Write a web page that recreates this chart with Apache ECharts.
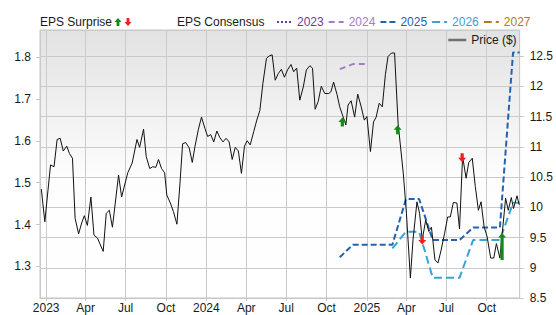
<!DOCTYPE html>
<html><head><meta charset="utf-8">
<script src="https://cdn.jsdelivr.net/npm/echarts@6/dist/echarts.min.js"></script>
<style>html,body{margin:0;padding:0;background:#fff}#c{width:556px;height:315px}</style>
</head><body><div id="c"></div>
<script>
// ---- data ----
const priceDates = ['2022-12-21','2022-12-29','2023-01-11','2023-01-19','2023-01-26','2023-02-02','2023-02-09','2023-02-17','2023-02-23','2023-03-02','2023-03-08','2023-03-16','2023-03-23','2023-03-29','2023-04-05','2023-04-13','2023-04-20','2023-04-28','2023-05-11','2023-05-18','2023-05-25','2023-06-01','2023-06-15','2023-06-22','2023-07-06','2023-07-16','2023-07-27','2023-08-02','2023-08-11','2023-08-17','2023-08-25','2023-09-01','2023-09-08','2023-09-14','2023-09-21','2023-09-28','2023-10-03','2023-10-11','2023-10-18','2023-10-26','2023-11-02','2023-11-08','2023-11-15','2023-11-23','2023-11-30','2023-12-06','2023-12-14','2023-12-21','2023-12-29','2024-01-04','2024-01-11','2024-01-18','2024-01-25','2024-02-01','2024-02-08','2024-02-15','2024-02-22','2024-02-29','2024-03-07','2024-03-14','2024-03-21','2024-03-28','2024-04-03','2024-04-10','2024-04-18','2024-04-25','2024-05-02','2024-05-09','2024-05-17','2024-05-23','2024-05-30','2024-06-06','2024-06-13','2024-06-20','2024-06-27','2024-07-04','2024-07-12','2024-07-18','2024-07-25','2024-08-01','2024-08-09','2024-08-16','2024-08-24','2024-08-30','2024-09-05','2024-09-12','2024-09-19','2024-09-27','2024-10-06','2024-10-11','2024-10-17','2024-10-25','2024-10-31','2024-11-07','2024-11-14','2024-11-19','2024-11-26','2024-12-04','2024-12-11','2024-12-19','2024-12-26','2025-01-01','2025-01-09','2025-01-16','2025-01-22','2025-01-29','2025-02-05','2025-02-12','2025-02-18','2025-02-26','2025-03-05','2025-03-13','2025-03-25','2025-04-01','2025-04-10','2025-04-16','2025-04-25','2025-05-01','2025-05-07','2025-05-15','2025-05-22','2025-05-28','2025-06-05','2025-06-12','2025-06-19','2025-06-27','2025-07-04','2025-07-10','2025-07-17','2025-07-25','2025-07-31','2025-08-07','2025-08-15','2025-08-21','2025-08-29','2025-09-05','2025-09-12','2025-09-18','2025-09-25','2025-10-02','2025-10-10','2025-10-17','2025-10-23','2025-10-31','2025-11-05','2025-11-13','2025-11-19','2025-11-26','2025-12-01','2025-12-09','2025-12-14'];
const priceValues = [10.30,9.76,10.70,10.67,11.12,11.14,10.93,11.01,10.89,10.81,9.82,9.56,9.74,9.86,9.70,10.17,9.54,9.49,9.27,9.90,9.95,9.67,10.53,10.17,10.57,10.73,11.12,10.99,11.29,10.84,10.64,10.67,10.66,10.79,10.64,10.57,10.20,10.07,9.93,9.72,10.40,11.05,11.07,10.98,10.74,11.00,11.29,11.49,11.30,11.17,11.20,11.08,11.26,11.15,11.08,11.14,11.08,10.79,10.99,10.93,10.56,11.01,11.10,11.03,11.25,11.44,11.60,12.05,12.46,12.50,12.52,12.10,12.21,12.28,12.15,12.27,12.36,12.24,12.30,11.77,11.99,12.27,12.34,12.30,11.62,11.75,12.00,11.88,11.88,11.91,12.07,11.86,11.66,11.51,11.36,11.69,11.76,11.49,11.87,11.66,11.44,11.50,10.92,11.41,11.49,11.72,11.66,12.19,12.49,12.55,12.55,11.39,10.55,9.90,8.83,9.46,10.09,9.90,9.46,9.79,9.60,9.67,9.13,9.08,9.29,9.57,9.84,9.84,10.08,10.07,9.64,10.84,10.48,10.74,10.81,10.34,9.95,10.09,9.68,9.51,9.16,9.16,9.40,9.16,9.54,10.15,9.95,10.16,9.98,10.19,10.04];

const epsDates = ['2024-10-31','2024-11-30','2024-12-31','2025-01-31','2025-02-28','2025-03-31','2025-04-30','2025-05-31','2025-06-30','2025-07-31','2025-08-31','2025-09-30','2025-10-31','2025-11-30','2025-12-15'];
const eps2023 = [];
const eps2024 = [1.771,1.783,1.783,null,null,null,null,null,null,null,null,null,null,null,null];
const eps2025 = [1.322,1.352,1.352,1.352,1.352,1.461,1.461,1.363,1.363,1.363,1.393,1.393,1.393,1.811,1.811];
const eps2026 = [null,null,null,null,1.343,1.383,1.383,1.273,1.273,1.273,1.363,1.363,1.363,1.452,1.452];
const eps2027 = [];

const surpriseUpDates = ['2024-11-06','2025-03-12','2025-11-05'];
const surpriseUpValues = [11.41,11.28,9.35];
const surpriseDownDates = ['2025-05-07','2025-08-06'];
const surpriseDownValues = [9.46,10.82];

const leftTicks = [1.3,1.4,1.5,1.6,1.7,1.8];
const yearNames = ['2023','2024','2025','2026','2027'];
const monthNames = ['Jan','Feb','Mar','Apr','May','Jun','Jul','Aug','Sep','Oct','Nov','Dec'];

// ---- styles ----
const FONT = "'Liberation Sans', Arial, sans-serif";
const colors = {'2023':'#6b3f98','2024':'#a57cc6','2025':'#2462ae','2026':'#3ba2d6','2027':'#b07a28'};
const dashes = {'2023':[2,2],'2024':[6,4],'2025':[6,3],'2026':[8,4],'2027':[8,4]};
const UP = 'path://M4,0 L8,4.5 L5.6,4.5 L5.6,9 L2.4,9 L2.4,4.5 L0,4.5 Z';
const UP_TALL = 'path://M4,0 L8,4.5 L5.6,4.5 L5.6,27 L2.4,27 L2.4,4.5 L0,4.5 Z';
const DOWN = 'path://M2.4,0 L5.6,0 L5.6,4.5 L8,4.5 L4,9 L0,4.5 L2.4,4.5 Z';
const GREEN = '#17891a', RED = '#ee1f1f';
const HIDDEN_MARK = { color: 'rgba(0,0,0,0)', borderColor: 'rgba(0,0,0,0)', borderWidth: 0, opacity: 0 };

const zip = (a, b) => a.map((d, i) => [d, b[i]]);
const epsData = { '2023': eps2023.length ? zip(epsDates, eps2023) : [], '2024': zip(epsDates, eps2024), '2025': zip(epsDates, eps2025), '2026': zip(epsDates, eps2026), '2027': eps2027.length ? zip(epsDates, eps2027) : [] };

const series = [];
yearNames.forEach(y => {
  series.push({
    name: y, type: 'line', yAxisIndex: 0, data: epsData[y], symbol: 'none', connectNulls: false,
    lineStyle: { color: colors[y], width: 2, type: dashes[y] }, itemStyle: { color: colors[y] }, z: 3
  });
});
series.push({
  name: 'Price ($)', type: 'line', yAxisIndex: 1, data: zip(priceDates, priceValues), symbol: 'none',
  lineStyle: { color: '#111', width: 1 }, itemStyle: { color: '#666' }, z: 4
});
series.push({
  name: 'up', type: 'scatter', yAxisIndex: 1, data: zip(surpriseUpDates, surpriseUpValues),
  symbol: (v, p) => p.dataIndex === 2 ? UP_TALL : UP,
  symbolSize: (v, p) => p.dataIndex === 2 ? [8, 27] : [8, 9],
  itemStyle: { color: GREEN, opacity: 1 }, z: 6
});
series.push({
  name: 'down', type: 'scatter', yAxisIndex: 1, data: zip(surpriseDownDates, surpriseDownValues),
  symbol: DOWN, symbolSize: [8, 9], itemStyle: { color: RED, opacity: 1 }, z: 6
});

const axisGray = '#c6c6c6';
const option = {
  animation: false,
  textStyle: { fontFamily: FONT },
  title: [
    { text: 'EPS Surprise', left: 40, top: 16, padding: 0, textStyle: { fontSize: 12, fontWeight: 'normal', color: '#1a1a1a', fontFamily: FONT } },
    { text: 'EPS Consensus', left: 177, top: 16, padding: 0, textStyle: { fontSize: 12, fontWeight: 'normal', color: '#1a1a1a', fontFamily: FONT } }
  ],
  legend: [
    { data: [{ name: 'up', icon: UP }], left: 114, top: 18, padding: 0, itemWidth: 8, itemHeight: 8, formatter: () => '', selectedMode: false },
    { data: [{ name: 'down', icon: DOWN }], left: 124, top: 18, padding: 0, itemWidth: 8, itemHeight: 8, formatter: () => '', selectedMode: false },
    { data: yearNames.map(y => ({ name: y, textStyle: { color: colors[y] } })), left: 276, top: 16, padding: 0, itemWidth: 15, itemHeight: 10, itemGap: 4,
      itemStyle: HIDDEN_MARK,
      textStyle: { fontSize: 12, fontFamily: FONT }, selectedMode: false },
    { data: ['Price ($)'], left: 447, top: 34, padding: 0, itemWidth: 18, itemHeight: 10,
      itemStyle: HIDDEN_MARK,
      lineStyle: { color: '#707070', width: 2.5 }, textStyle: { fontSize: 12, color: '#1a1a1a', fontFamily: FONT }, selectedMode: false }
  ],
  grid: {
    left: 40, right: 31, top: 30, bottom: 17, show: true, borderColor: axisGray, borderWidth: 1,
    backgroundColor: new echarts.graphic.LinearGradient(0, 0, 0, 1, [
      { offset: 0, color: '#e2e2e2' }, { offset: 0.55, color: '#fdfdfd' }, { offset: 1, color: '#ffffff' }
    ])
  },
  xAxis: {
    type: 'time', min: '2022-12-18', max: '2025-12-15',
    splitNumber: 12, minInterval: 90 * 864e5, maxInterval: 92 * 864e5,
    axisLine: { show: true, lineStyle: { color: axisGray } },
    axisTick: { show: true, length: 3, lineStyle: { color: axisGray } },
    splitLine: { show: true, lineStyle: { color: '#cacaca', width: 1 } },
    axisLabel: {
      fontSize: 12, color: '#1a1a1a', margin: 4, fontFamily: FONT, showMinLabel: false, showMaxLabel: false,
      formatter: (val) => { const d = new Date(val); return d.getMonth() === 0 ? String(d.getFullYear()) : monthNames[d.getMonth()]; }
    }
  },
  yAxis: [
    {
      type: 'value', position: 'left', min: 1.2248, max: 1.8644,
      axisLine: { show: false }, splitLine: { show: false },
      axisTick: { show: true, length: 4, lineStyle: { color: axisGray }, customValues: leftTicks },
      axisLabel: { fontSize: 12, color: '#1a1a1a', margin: 9, fontFamily: FONT, customValues: leftTicks }
    },
    {
      type: 'value', position: 'right', min: 8.5, max: 12.93, interval: 0.5,
      axisLine: { show: false },
      splitLine: { show: true, lineStyle: { color: '#cacaca', width: 1 } },
      axisTick: { show: true, length: 4, lineStyle: { color: axisGray } },
      axisLabel: { fontSize: 12, color: '#1a1a1a', margin: 10, fontFamily: FONT, showMaxLabel: false }
    }
  ],
  series: series
};
const chart = echarts.init(document.getElementById('c'), null, { renderer: 'svg' });
chart.setOption(option);
</script>
</body></html>
